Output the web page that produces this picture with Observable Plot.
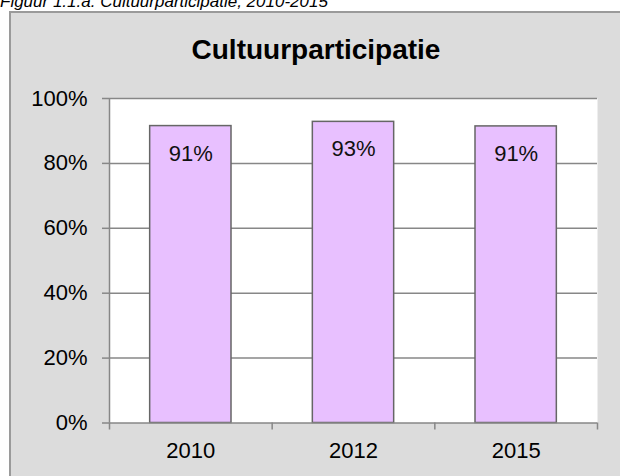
<!DOCTYPE html>
<html>
<head>
<meta charset="utf-8">
<script src="https://cdn.jsdelivr.net/npm/d3@7"></script>
<script src="https://cdn.jsdelivr.net/npm/@observablehq/plot@0.6"></script>
<style>
  html, body { margin: 0; padding: 0; background: #ffffff; }
  #page { position: relative; width: 620px; height: 476px; overflow: hidden; font-family: "Liberation Sans", Arial, sans-serif; }
  #caption { position: absolute; left: 0; top: -7.4px; font-size: 17px; line-height: 17px; font-style: italic; color: #000; white-space: nowrap; }
  #box { position: absolute; left: 9px; top: 11px; width: 640px; height: 500px; background: #dcdcdc; border: 2px solid #9a9a9a; box-sizing: border-box; }
  #title { position: absolute; left: 6px; width: 620px; top: 36px; text-align: center; font-size: 28px; line-height: 28px; font-weight: bold; color: #000; }
  #chart { position: absolute; left: 0; top: 0; }
</style>
</head>
<body>
<div id="page">
  <div id="caption">Figuur 1.1.a: Cultuurparticipatie, 2010-2015</div>
  <div id="box"></div>
  <div id="title">Cultuurparticipatie</div>
  <div id="chart"></div>
</div>
<script>
const years = ["2010", "2012", "2015"];
const values = [0.915, 0.928, 0.914];
const valueLabels = ["91%", "93%", "91%"];
const yTicks = [0, 0.2, 0.4, 0.6, 0.8, 1.0];

const data = years.map((year, i) => ({year, i, value: values[i], label: valueLabels[i]}));
const grid = "#878787";

const chart = Plot.plot({
  width: 620,
  height: 476,
  marginLeft: 109,
  marginRight: 23,
  marginTop: 98,
  marginBottom: 53.5,
  style: {background: "transparent", fontFamily: "'Liberation Sans', Arial, sans-serif", fontSize: "22px", color: "#000"},
  x: {type: "linear", domain: [0, years.length], axis: null},
  y: {domain: [0, 1], axis: null},
  marks: [
    Plot.frame({fill: "white", stroke: null}),
    Plot.ruleY(yTicks.slice(1), {stroke: grid, strokeWidth: 1.5}),
    Plot.rectY(data, {x1: d => d.i + 0.25, x2: d => d.i + 0.75, y: "value", fill: "#e8c0ff", stroke: "#666666", strokeWidth: 1.5}),
    Plot.text(data, {x: d => d.i + 0.5, y: "value", text: "label", lineAnchor: "top", dy: 19, fontSize: 22, fill: "#111"}),
    Plot.ruleX([0], {stroke: grid, strokeWidth: 1.5}),
    Plot.ruleY([0], {stroke: grid, strokeWidth: 1.5}),
    Plot.axisY({ticks: yTicks, tickFormat: d3.format(".0%"), label: null, tickSize: 7, tickPadding: 15, stroke: grid, strokeWidth: 1.5, fontSize: 22, fill: "#000"}),
    Plot.axisX({ticks: d3.range(years.length + 1), tickFormat: () => "", label: null, tickSize: 7, stroke: grid, strokeWidth: 1.5}),
    Plot.axisX({ticks: years.map((y, i) => i + 0.5), tickFormat: d => years[Math.floor(d)], label: null, tickSize: 0, tickPadding: 19, fontSize: 22, fill: "#000"})
  ]
});
document.getElementById("chart").appendChild(chart);
</script>
</body>
</html>
